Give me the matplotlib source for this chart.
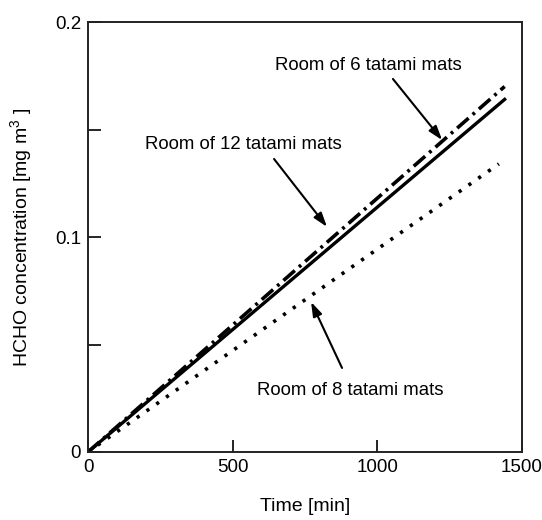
import matplotlib
matplotlib.use("Agg")
import matplotlib.pyplot as plt

plt.rcParams['font.family'] = ['Liberation Sans', 'DejaVu Sans']
plt.rcParams['mathtext.fontset'] = 'custom'
plt.rcParams['mathtext.rm'] = 'Liberation Sans'

# HCHO build-up in each room (linear rise from zero)
time_min = [0, 1440]
room6 = [0, 0.170]
room12 = [0, 0.164]
room8_time = [0, 1420]
room8 = [0, 0.134]

x_ticks = [0, 500, 1000, 1500]
y_ticks = [0, 0.05, 0.1, 0.15, 0.2]
y_ticklabels = ['0', '', '0.1', '', '0.2']

# label text position, arrow tail, arrow head (data coords)
labels = ['Room of 6 tatami mats', 'Room of 12 tatami mats', 'Room of 8 tatami mats']
label_xy = [(968, 0.180), (536, 0.1428), (906, 0.0288)]
tail_xy = [(1054, 0.1735), (643, 0.1363), (878, 0.0391)]
head_xy = [(1224, 0.1451), (826, 0.1047), (771, 0.0698)]

fig = plt.figure(figsize=(5.42, 5.2), dpi=100)
ax = fig.add_axes([88 / 542, 68 / 520, 434 / 542, 430 / 520])

ax.plot(time_min, room6, color='black', lw=2.6,
        dashes=(4.2, 1.5, 0.8, 1.5))
ax.plot(time_min, room12, color='black', lw=2.4)
ax.plot(room8_time, room8, color='black', lw=2.6, dashes=(0.9, 2.4))

ax.set_xlim(0, 1500)
ax.set_ylim(0, 0.2)
ax.set_xticks(x_ticks)
ax.set_xticklabels([str(t) for t in x_ticks])
ax.set_yticks(y_ticks)
ax.set_yticklabels(y_ticklabels)
ax.tick_params(direction='in', length=9, width=1.2, labelsize=13.5, pad=5,
               top=False, right=False)
for s in ax.spines.values():
    s.set_linewidth(1.4)
    s.set_color('#222222')

ax.set_xlabel('Time [min]', fontsize=14, labelpad=16)
ax.set_ylabel('HCHO concentration [mg m$^{3}$ ]', fontsize=14, labelpad=14)

arrow = dict(arrowstyle='-|>,head_length=0.85,head_width=0.28',
             color='black', lw=1.5, shrinkA=0, shrinkB=0)
for text, lxy, txy, hxy in zip(labels, label_xy, tail_xy, head_xy):
    ax.text(lxy[0], lxy[1], text, ha='center', va='center', fontsize=13.4)
    ax.annotate('', xy=hxy, xytext=txy, arrowprops=arrow)

fig.savefig('out.png', dpi=100, facecolor='white')
